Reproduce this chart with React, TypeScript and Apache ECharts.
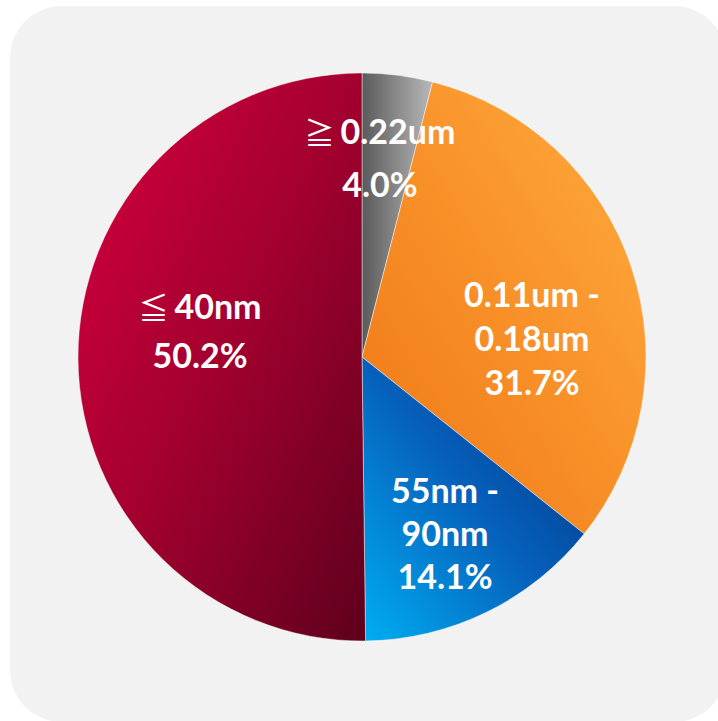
import React, { useEffect, useRef } from "react";
import * as echarts from "echarts";

const categories = ["≧0.22um", "0.11um -\n0.18um", "55nm -\n90nm", "≦40nm"];
const values = [4.0, 31.7, 14.1, 50.2];
const gradients = [
  { x: 0, y: 0.5, x2: 1, y2: 0.5, stops: ["#5a5a5a", "#8a8a8a", "#b8b8b8"] },
  { x: 1, y: 0, x2: 0, y2: 1, stops: ["#ffad40", "#f89028", "#ef7616"] },
  { x: 0, y: 1, x2: 1, y2: 0, stops: ["#00aef2", "#0660bb", "#00307e"] },
  { x: 0, y: 0, x2: 1, y2: 1, stops: ["#d8003f", "#a2002f", "#5e001c"] },
];
// label offsets from pie centre (px)
const labelOffsets = [
  [18, -200],
  [170, -20],
  [83, 175],
  [-162, -27],
];
const lineHeights = [53, 44, 43, 49];

const CX = 362;
const CY = 357;
const R = 284;

function makeRich(lh: number) {
  return {
    b: {
      fontFamily: "Lato",
      fontWeight: "bold",
      fontSize: 34,
      color: "#ffffff",
      lineHeight: lh,
    },
    s: {
      fontFamily: "Noto Sans CJK JP",
      fontWeight: "normal",
      fontSize: 30,
      color: "#ffffff",
      lineHeight: lh,
      padding: [0, 6, 0, 0],
    },
  };
}

export default function App() {
  const ref = useRef<HTMLDivElement>(null);
  useEffect(() => {
    if (!ref.current) return;
    const chart = echarts.init(ref.current, undefined, { renderer: "svg" });
    const data = categories.map((name, i) => {
      const g = gradients[i];
      return {
        name,
        value: values[i],
        itemStyle: {
          color: new echarts.graphic.LinearGradient(g.x, g.y, g.x2, g.y2, [
            { offset: 0, color: g.stops[0] },
            { offset: 0.5, color: g.stops[1] },
            { offset: 1, color: g.stops[2] },
          ]),
        },
        label: { rich: makeRich(lineHeights[i]), lineHeight: lineHeights[i] },
      };
    });
    chart.setOption({
      animation: false,
      backgroundColor: "#ffffff",
      graphic: [
        {
          type: "rect",
          z: -10,
          shape: { x: 10, y: 6, width: 716, height: 716, r: 52 },
          style: { fill: "#f2f2f2" },
          silent: true,
        },
      ],
      series: [
        {
          type: "pie",
          center: [CX, CY],
          radius: [0, R],
          startAngle: 90,
          clockwise: true,
          avoidLabelOverlap: false,
          itemStyle: { borderColor: "rgba(255,255,255,0.45)", borderWidth: 1 },
          label: {
            show: true,
            position: "inside",
            color: "#ffffff",
            formatter: (p: any) => {
              const name: string = p.name;
              const lines = name.split("\n").map((ln) => {
                if (ln[0] === "≧" || ln[0] === "≦") {
                  return `{s|${ln[0]}}{b|${ln.slice(1)}}`;
                }
                return `{b|${ln}}`;
              });
              lines.push(`{b|${Number(p.value).toFixed(1)}%}`);
              return lines.join("\n");
            },
          },
          labelLine: { show: false },
          labelLayout: (params: any) => {
            const o = labelOffsets[params.dataIndex];
            return { x: CX + o[0], y: CY + o[1] };
          },
          data,
        },
      ],
    });
    return () => chart.dispose();
  }, []);
  return (
    <div
      ref={ref}
      style={{ position: "absolute", left: 0, top: 0, width: 718, height: 721 }}
    />
  );
}
